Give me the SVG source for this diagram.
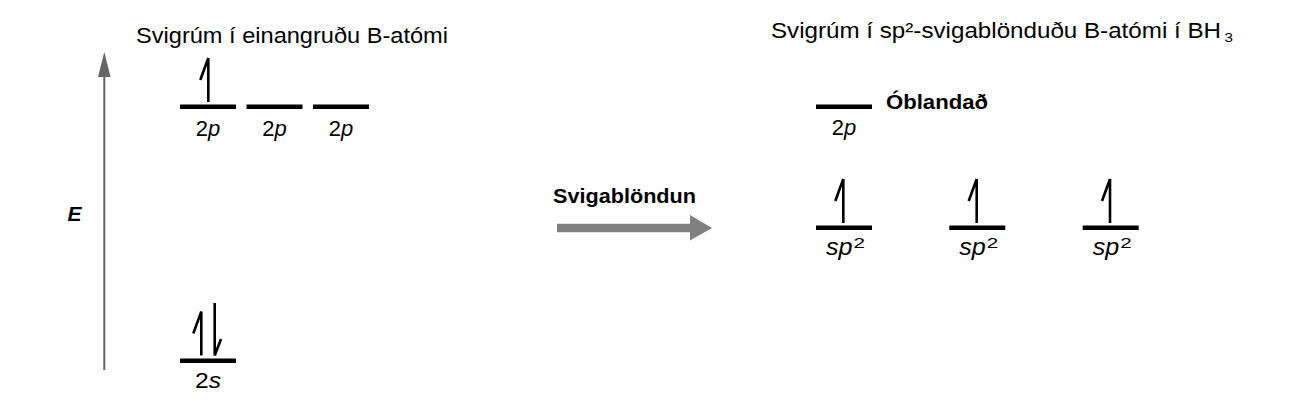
<svg xmlns="http://www.w3.org/2000/svg" width="1300" height="402" viewBox="0 0 1300 402">
<defs>
<style>
.lvl{stroke:#000;stroke-width:4.5;fill:none}
.sp{stroke:#000;stroke-width:2.6;fill:none;stroke-linecap:butt;stroke-linejoin:miter}
.t{font-family:"Liberation Sans",Arial,sans-serif;fill:#000}
.ttl{font-size:22px}
.lab{font-size:22px;text-anchor:middle}
.b{font-weight:bold}
.s1{font-size:24px;font-style:italic}
.s2{font-size:15px}
</style>
<path id="up" class="sp" d="M0,-44 L0,0 M0,-44 L-8,-22"/>
</defs>
<rect width="1300" height="402" fill="#fff"/>
<g id="axis">
<line x1="104.3" y1="370" x2="104.3" y2="75" stroke="#666" stroke-width="2"/>
<polygon points="104.3,52 98,77 110.6,77" fill="#666"/>
<text class="t" x="74.5" y="221" font-size="21" font-weight="bold" font-style="italic" text-anchor="middle">E</text>
</g>
<g id="title-left"><text class="t ttl" x="136" y="43" textLength="312" lengthAdjust="spacingAndGlyphs">Svigrúm í einangruðu B-atómi</text></g>
<g id="title-right">
<text class="t ttl" x="771" y="38.3" textLength="450" lengthAdjust="spacingAndGlyphs">Svigrúm í sp²-svigablönduðu B-atómi í BH</text>
<text class="t" x="1224.5" y="41.7" font-size="12" textLength="8.5" lengthAdjust="spacingAndGlyphs">3</text>
</g>
<g id="left-2p-1">
<line class="lvl" x1="180" y1="106.7" x2="236" y2="106.7"/>
<use href="#up" x="208.3" y="102"/>
<text class="t lab" x="208" y="136">2<tspan font-style="italic">p</tspan></text>
</g>
<g id="left-2p-2">
<line class="lvl" x1="246.5" y1="106.7" x2="302.5" y2="106.7"/>
<text class="t lab" x="274.5" y="136">2<tspan font-style="italic">p</tspan></text>
</g>
<g id="left-2p-3">
<line class="lvl" x1="313" y1="106.7" x2="369" y2="106.7"/>
<text class="t lab" x="341" y="136">2<tspan font-style="italic">p</tspan></text>
</g>
<g id="left-2s">
<line class="lvl" x1="180" y1="360.7" x2="236" y2="360.7"/>
<use href="#up" x="201.3" y="355.5"/>
<path class="sp" d="M214.7,303 L214.7,355.5 M214.7,355.5 L221,339"/>
<text class="t" x="195" y="388.3" font-size="22" textLength="26" lengthAdjust="spacingAndGlyphs">2<tspan font-style="italic">s</tspan></text>
</g>
<g id="hybridization">
<text class="t b" x="553" y="203" font-size="20" textLength="143" lengthAdjust="spacingAndGlyphs">Svigablöndun</text>
<line x1="557" y1="228" x2="692" y2="228" stroke="#808080" stroke-width="8.5"/>
<polygon points="690,215 712,228 690,240.5" fill="#808080"/>
</g>
<g id="right-2p">
<line class="lvl" x1="816" y1="106.7" x2="872" y2="106.7"/>
<text class="t lab" x="844" y="135">2<tspan font-style="italic">p</tspan></text>
<text class="t b" x="886" y="109" font-size="19.5" textLength="102" lengthAdjust="spacingAndGlyphs">Óblandað</text>
</g>
<g id="sp2-1">
<line class="lvl" x1="816" y1="227.7" x2="872" y2="227.7"/>
<use href="#up" x="843.3" y="223"/>
<text class="t s1" x="826" y="255" textLength="26.5" lengthAdjust="spacingAndGlyphs">sp</text>
<text class="t s2" x="853.5" y="248" textLength="11.5" lengthAdjust="spacingAndGlyphs">2</text>
</g>
<g id="sp2-2">
<line class="lvl" x1="949.3" y1="227.7" x2="1005.3" y2="227.7"/>
<use href="#up" x="976.7" y="223"/>
<text class="t s1" x="959.3" y="255" textLength="26.5" lengthAdjust="spacingAndGlyphs">sp</text>
<text class="t s2" x="986.8" y="248" textLength="11.5" lengthAdjust="spacingAndGlyphs">2</text>
</g>
<g id="sp2-3">
<line class="lvl" x1="1082.7" y1="227.7" x2="1138.7" y2="227.7"/>
<use href="#up" x="1110" y="223"/>
<text class="t s1" x="1092.7" y="255" textLength="26.5" lengthAdjust="spacingAndGlyphs">sp</text>
<text class="t s2" x="1120.2" y="248" textLength="11.5" lengthAdjust="spacingAndGlyphs">2</text>
</g>
</svg>
